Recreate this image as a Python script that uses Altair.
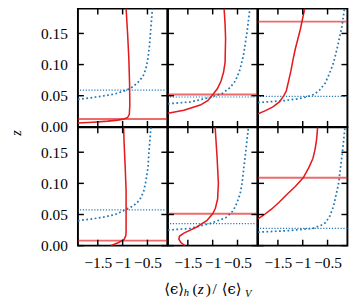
import altair as alt
import pandas as pd

X_TICKS = [-1.5, -1.0, -0.5]
Z_TICKS = [0.0, 0.05, 0.10, 0.15]
X_DOMAIN = [-1.9, -0.1]
Z_DOMAIN = [0.0, 0.19]

# red solid profiles (x, z) per panel
red_x = [
    [-1.90, -1.60, -1.30, -1.10, -0.97, -0.90, -0.865, -0.855, -0.86, -0.875, -0.90, -0.93],
    [-1.90, -1.58, -1.25, -1.10, -0.995, -0.90, -0.83, -0.78, -0.75, -0.74, -0.75, -0.77],
    [-1.90, -1.75, -1.60, -1.47, -1.38, -1.33, -1.28, -1.24, -1.19, -1.15, -1.05, -0.96],
    [-1.24, -1.08, -0.97, -0.935, -0.93, -0.93, -0.95, -0.97, -0.98],
    [-1.56, -1.64, -1.68, -1.67, -1.58, -1.45, -1.32, -1.12, -1.00, -0.945, -0.90, -0.885, -0.91, -0.95],
    [-1.90, -1.77, -1.63, -1.47, -1.31, -1.15, -0.99, -0.88, -0.795, -0.75, -0.72, -0.70],
]
red_z = [
    [0.006, 0.0075, 0.0092, 0.0108, 0.0125, 0.015, 0.020, 0.035, 0.070, 0.110, 0.150, 0.19],
    [0.022, 0.0265, 0.035, 0.042, 0.052, 0.062, 0.074, 0.088, 0.104, 0.142, 0.165, 0.19],
    [0.021, 0.026, 0.032, 0.040, 0.050, 0.058, 0.075, 0.089, 0.110, 0.125, 0.156, 0.19],
    [0.0, 0.005, 0.010, 0.016, 0.022, 0.088, 0.130, 0.165, 0.19],
    [0.0, 0.005, 0.010, 0.015, 0.020, 0.025, 0.030, 0.040, 0.051, 0.060, 0.075, 0.10, 0.14, 0.19],
    [0.043, 0.050, 0.0585, 0.070, 0.083, 0.095, 0.109, 0.125, 0.14, 0.155, 0.171, 0.19],
]

# blue dotted profiles
blue_x = [
    [-1.90, -1.43, -1.15, -0.92, -0.78, -0.66, -0.58, -0.53, -0.49, -0.46, -0.43, -0.40],
    [-1.90, -1.45, -1.06, -0.80, -0.65, -0.54, -0.45, -0.38, -0.31, -0.25],
    [-1.90, -1.38, -1.10, -0.93, -0.78, -0.67, -0.55, -0.47, -0.38, -0.31, -0.21, -0.16],
    [-1.90, -1.43, -1.15, -0.92, -0.78, -0.66, -0.58, -0.53, -0.49, -0.47, -0.43],
    [-1.90, -1.45, -1.06, -0.74, -0.62, -0.54, -0.45, -0.41, -0.35, -0.28],
    [-1.90, -1.31, -0.795, -0.62, -0.54, -0.45, -0.38, -0.28, -0.20, -0.15],
]
blue_z = [
    [0.044, 0.049, 0.053, 0.059, 0.065, 0.074, 0.083, 0.094, 0.110, 0.130, 0.160, 0.19],
    [0.037, 0.040, 0.047, 0.054, 0.063, 0.074, 0.092, 0.115, 0.151, 0.19],
    [0.039, 0.042, 0.045, 0.048, 0.052, 0.058, 0.070, 0.084, 0.103, 0.125, 0.161, 0.19],
    [0.040, 0.045, 0.050, 0.0585, 0.064, 0.073, 0.086, 0.104, 0.125, 0.150, 0.19],
    [0.025, 0.0277, 0.0354, 0.0447, 0.053, 0.063, 0.082, 0.099, 0.14, 0.19],
    [0.0216, 0.024, 0.0277, 0.033, 0.037, 0.048, 0.063, 0.099, 0.15, 0.19],
]

# horizontal reference levels
red_h = [0.0125, 0.052, 0.169, 0.008, 0.0513, 0.109]
blue_h = [0.059, 0.048, 0.049, 0.0575, 0.0354, 0.0277]

RED = "#e41a1c"
BLUE = "#1f77b4"
FONT = "Liberation Serif"
W = 93.3
H = 123.5

xs = alt.Scale(domain=X_DOMAIN, nice=False, zero=False)
ys = alt.Scale(domain=Z_DOMAIN, nice=False, zero=False)


def panel(i, show_x, show_y):
    if show_x:
        xa = alt.Axis(values=X_TICKS, format="~g", ticks=False, domain=False, grid=False,
                      labelFont=FONT, labelFontSize=16, labelPadding=10, labelColor="black",
                      labelFontWeight="normal",
                      labelOverlap=False, labelFlush=False, title="")
    else:
        xa = None
    if show_y:
        ya = alt.Axis(values=Z_TICKS, format=".2f", ticks=False, domain=False, grid=False,
                      labelFont=FONT, labelFontSize=16, labelPadding=11, labelColor="black",
                      labelFontWeight="normal",
                      labelOverlap=False, labelFlush=False,
                      title="z" if i == 0 else "",
                      titleFont=FONT, titleFontStyle="italic", titleFontWeight="normal",
                      titleFontSize=15, titleColor="black", titleX=-57, titleY=H + 6)
    else:
        ya = None
    X = lambda f: alt.X(f, scale=xs, axis=xa)
    Y = lambda f: alt.Y(f, scale=ys, axis=ya)
    XD = lambda v: alt.XDatum(v, scale=xs, axis=xa)
    YD = lambda v: alt.YDatum(v, scale=ys, axis=ya)

    dr = pd.DataFrame({"x": red_x[i], "z": red_z[i]})
    db = pd.DataFrame({"x": blue_x[i], "z": blue_z[i]})
    dhr = pd.DataFrame({"z": [red_h[i]]})
    dhb = pd.DataFrame({"z": [blue_h[i]]})
    dtx = pd.DataFrame({"t": X_TICKS})
    dty = pd.DataFrame({"t": Z_TICKS})

    blue = alt.Chart(db).mark_line(color=BLUE, strokeWidth=1.8, strokeDash=[1.8, 2.6], clip=True).encode(
        x=X("x:Q"), y=Y("z:Q"), order=alt.Order("z:Q"))
    hb = alt.Chart(dhb).mark_rule(color=BLUE, strokeWidth=1.2, strokeDash=[1.2, 1.8]).encode(y=Y("z:Q"))
    hr = alt.Chart(dhr).mark_rule(color=RED, strokeWidth=2, opacity=0.65).encode(y=Y("z:Q"))
    red = alt.Chart(dr).mark_line(color=RED, strokeWidth=1.6, clip=True).encode(
        x=X("x:Q"), y=Y("z:Q"), order=alt.Order("z:Q"))

    tb = alt.Chart(dtx).mark_rule(color="black", strokeWidth=1.5).encode(
        x=X("t:Q"), y=YD(0.0), y2=alt.Y2Datum(0.0095))
    tt = alt.Chart(dtx).mark_rule(color="black", strokeWidth=1.5).encode(
        x=X("t:Q"), y=YD(0.19), y2=alt.Y2Datum(0.1805))
    tl = alt.Chart(dty).mark_rule(color="black", strokeWidth=1.5).encode(
        y=Y("t:Q"), x=XD(-1.9), x2=alt.X2Datum(-1.78))
    tr = alt.Chart(dty).mark_rule(color="black", strokeWidth=1.5).encode(
        y=Y("t:Q"), x=XD(-0.1), x2=alt.X2Datum(-0.22))

    layers = [blue, hb, hr, red, tb, tt, tl, tr]

    if i == 4:
        one = pd.DataFrame({"a": [0]})
        base_y = H + 50
        def txt(s, x, y, size=16, style="normal", font="DejaVu Serif"):
            return alt.Chart(one).mark_text(text=s, align="left", baseline="alphabetic",
                                            font=font, fontSize=size, fontStyle=style,
                                            color="black").encode(x=alt.value(x), y=alt.value(y))
        layers += [
            txt("⟨ϵ⟩", -4, base_y, 15.5),
            txt("h", 16.5, base_y + 3, 11, "italic", FONT),
            txt("(", 25.5, base_y, 16, "normal", FONT),
            txt("z", 31, base_y, 16, "italic", FONT),
            txt(")", 39.5, base_y, 16, "normal", FONT),
            txt("/", 46.5, base_y, 16, "normal", FONT),
            txt("⟨ϵ⟩", 56, base_y, 15.5),
            txt("V", 80.5, base_y + 4, 11, "italic", FONT),
        ]

    return alt.layer(*layers).properties(width=W, height=H)


panels = [
    panel(0, False, True), panel(1, False, False), panel(2, False, False),
    panel(3, True, True), panel(4, True, False), panel(5, True, False),
]

chart = alt.concat(*panels, columns=3, spacing=0, bounds="flush").properties(
    padding={"left": 0, "top": -8, "right": 0, "bottom": 0},
    background="white",
).configure_view(stroke="black", strokeWidth=2).configure_concat(spacing=0)

chart.save("out.html", embed_options={"renderer": "svg", "actions": False})
